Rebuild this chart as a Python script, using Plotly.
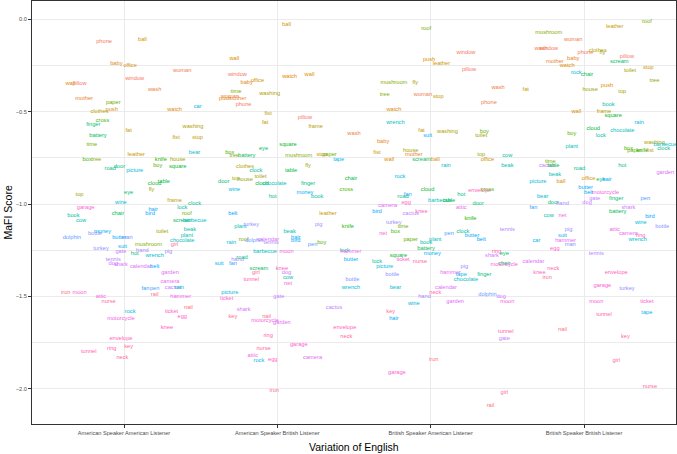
import math
import plotly.graph_objects as go

conditions = ["American Speaker American Listener", "American Speaker British Listener",
              "British Speaker American Listener", "British Speaker British Listener"]

# factor level order of the word colour scale (ggplot hue palette)
word_levels = ["pillow", "window", "phone", "woman",
               "wash", "mother", "baby", "watch", "push", "wall",
               "ball", "office", "stop",
               "leather", "fat", "fist", "frame", "clothes", "washing", "toilet", "fly", "house", "top", "tree", "mushroom", "roof",
               "time", "paper", "boy",
               "cross", "box", "knife", "square", "cloud", "table", "chair", "battery", "scream",
               "eye", "door", "finger", "hot",
               "road", "clock", "lock", "book", "cow", "beak", "plant", "chocolate", "barbecue", "wrench", "bear", "rain",
               "wine", "picture", "rock", "car", "tape", "suit",
               "money", "butter", "hair", "bird", "belt", "fan", "pen",
               "dolphin", "man",
               "bottle", "turkey", "pig", "hand", "tennis", "cactus",
               "gate", "dog", "shark", "calendar", "garden", "camera", "hammer", "attic", "motorcycle",
               "net", "moon", "garage", "ticket", "egg", "knee", "envelope", "ring", "tunnel", "neck", "nurse",
               "girl", "key", "iron", "nail", "rail"]

# ---- American Speaker American Listener
words_aa = ["phone", "ball", "baby", "office", "woman", "window", "wall", "pillow", "wash", "mother",
            "paper", "clothes", "push", "watch", "car", "cross", "finger", "fat", "washing", "battery",
            "fist", "stop", "time", "leather", "bear", "box", "tree", "knife", "house", "road",
            "door", "picture", "boy", "square", "cloud", "table", "fly", "eye", "top", "frame",
            "wine", "clock", "garage", "lock", "hair", "book", "chair", "bird", "roof", "cow",
            "scream", "barbecue", "toilet", "beak", "plant", "dolphin", "bottle", "money", "butter", "man",
            "chocolate", "girl", "mushroom", "turkey", "suit", "gate", "hand", "pig", "hot", "wrench",
            "tennis", "dog", "shark", "calendar", "belt", "garden", "camera", "cactus", "rain", "fan",
            "pen", "iron", "moon", "attic", "rail", "hammer", "nurse", "rock", "ticket", "nail",
            "egg", "motorcycle", "knee", "envelope", "key", "ring", "tunnel", "neck"]
score_aa = [-0.12, -0.11, -0.24, -0.25, -0.28, -0.32, -0.35, -0.35, -0.38, -0.43,
            -0.45, -0.50, -0.49, -0.49, -0.47, -0.55, -0.57, -0.60, -0.58, -0.63,
            -0.64, -0.64, -0.68, -0.73, -0.72, -0.76, -0.76, -0.76, -0.76, -0.81,
            -0.80, -0.82, -0.79, -0.80, -0.89, -0.88, -0.92, -0.94, -0.95, -0.98,
            -0.99, -1.00, -1.02, -1.02, -1.03, -1.06, -1.05, -1.05, -1.05, -1.09,
            -1.09, -1.09, -1.15, -1.14, -1.17, -1.18, -1.16, -1.15, -1.18, -1.18,
            -1.20, -1.22, -1.22, -1.24, -1.23, -1.26, -1.25, -1.26, -1.27, -1.28,
            -1.30, -1.32, -1.33, -1.34, -1.34, -1.37, -1.42, -1.45, -1.45, -1.46,
            -1.46, -1.48, -1.48, -1.50, -1.49, -1.50, -1.53, -1.58, -1.58, -1.56,
            -1.61, -1.62, -1.67, -1.73, -1.77, -1.78, -1.80, -1.83]
jitter_aa = [-0.13, 0.12, -0.05, 0.04, 0.38, 0.07, -0.35, -0.29, 0.20, -0.26,
             -0.07, -0.16, -0.08, 0.33, 0.48, -0.14, -0.20, 0.03, 0.45, -0.17,
             0.34, 0.48, -0.21, 0.08, 0.46, -0.24, -0.18, 0.24, 0.35, -0.09,
             -0.03, 0.07, 0.22, 0.35, 0.20, 0.26, 0.18, 0.03, -0.29, 0.33,
             -0.02, 0.46, -0.25, 0.38, 0.19, -0.33, -0.04, 0.17, 0.41, -0.28,
             0.38, 0.46, 0.25, 0.43, 0.41, -0.34, -0.19, -0.14, -0.03, 0.02,
             0.38, 0.33, 0.16, -0.15, -0.01, -0.02, 0.12, 0.29, 0.07, 0.20,
             -0.07, -0.07, -0.02, 0.11, 0.20, 0.30, 0.30, 0.32, 0.36, 0.14,
             0.20, -0.38, -0.29, -0.15, 0.20, 0.37, -0.10, 0.04, 0.31, 0.42,
             0.38, -0.02, 0.28, -0.02, 0.03, -0.08, -0.23, -0.01]

# ---- American Speaker British Listener
words_ab = ["ball", "wall", "window", "baby", "office", "watch", "wall", "time", "washing", "woman",
            "push", "mother", "phone", "fist", "pillow", "fat", "frame", "wash", "square", "eye",
            "box", "tree", "battery", "mushroom", "stop", "paper", "fly", "tape", "clothes", "clock",
            "table", "toilet", "top", "house", "door", "cloud", "chocolate", "finger", "chair", "wine",
            "cross", "money", "book", "hot", "belt", "leather", "plant", "turkey", "pig", "knife",
            "beak", "hair", "bird", "rain", "roof", "dolphin", "calendar", "tennis", "pen", "boy",
            "barbecue", "moon", "lock", "hammer", "butter", "hand", "road", "suit", "fan", "scream",
            "girl", "knee", "dog", "tunnel", "cow", "net", "bottle", "wrench", "picture", "ticket",
            "gate", "cactus", "shark", "key", "nail", "motorcycle", "garden", "envelope", "ring", "neck",
            "nurse", "garage", "attic", "rock", "egg", "camera", "iron"]
score_ab = [-0.03, -0.21, -0.30, -0.34, -0.33, -0.31, -0.30, -0.39, -0.40, -0.42,
            -0.43, -0.43, -0.46, -0.51, -0.53, -0.56, -0.58, -0.62, -0.68, -0.70,
            -0.72, -0.74, -0.74, -0.74, -0.73, -0.73, -0.79, -0.76, -0.80, -0.82,
            -0.82, -0.85, -0.86, -0.87, -0.88, -0.89, -0.89, -0.89, -0.86, -0.92,
            -0.92, -0.94, -0.96, -0.96, -1.05, -1.05, -1.12, -1.11, -1.11, -1.12,
            -1.15, -1.18, -1.20, -1.21, -1.19, -1.20, -1.19, -1.21, -1.22, -1.21,
            -1.26, -1.26, -1.25, -1.26, -1.30, -1.30, -1.29, -1.32, -1.32, -1.35,
            -1.37, -1.35, -1.37, -1.41, -1.40, -1.43, -1.41, -1.45, -1.48, -1.51,
            -1.50, -1.56, -1.57, -1.61, -1.61, -1.63, -1.64, -1.67, -1.71, -1.72,
            -1.78, -1.76, -1.82, -1.85, -1.84, -1.83, -2.01]
jitter_ab = [0.06, -0.28, -0.26, -0.20, -0.13, 0.08, 0.21, -0.27, -0.05, -0.31,
             -0.34, -0.26, -0.22, -0.06, 0.18, -0.08, 0.25, 0.50, 0.07, -0.09,
             -0.31, -0.28, -0.20, 0.14, 0.29, 0.34, 0.20, 0.40, -0.21, -0.14,
             0.09, -0.11, -0.27, -0.21, -0.35, -0.10, -0.02, 0.20, 0.48, -0.28,
             0.45, 0.18, 0.26, -0.03, -0.29, 0.33, -0.24, -0.17, 0.27, 0.46,
             0.08, 0.12, 0.12, -0.30, -0.22, -0.15, -0.06, -0.04, 0.23, 0.29,
             -0.08, 0.06, 0.44, 0.48, 0.48, -0.26, -0.23, -0.38, -0.29, -0.12,
             -0.14, 0.03, 0.06, -0.17, 0.07, 0.07, 0.49, 0.48, -0.31, -0.33,
             0.01, 0.37, -0.22, -0.29, -0.07, -0.08, 0.03, 0.44, -0.06, 0.45,
             -0.09, 0.14, -0.16, -0.12, -0.03, 0.23, -0.02]

# ---- British Speaker American Listener
words_ba = ["roof", "window", "push", "leather", "pillow", "mushroom", "fly", "tree", "woman", "stop",
            "wash", "phone", "watch", "wrench", "fat", "suit", "washing", "boy", "toilet", "baby",
            "fist", "house", "mother", "wall", "scream", "ball", "top", "office", "cow", "beak",
            "rain", "rock", "cloud", "fan", "road", "hot", "envelope", "cross", "barbecue", "table",
            "egg", "camera", "door", "bird", "knee", "cactus", "attic", "knife", "turkey", "time",
            "tennis", "net", "box", "pen", "clock", "butter", "belt", "paper", "plant", "book",
            "battery", "ring", "eye", "money", "square", "ticket", "lock", "nurse", "shark", "chair",
            "motorcycle", "picture", "pig", "hammer", "tape", "finger", "bottle", "chocolate", "bear", "calendar",
            "hand", "neck", "dolphin", "dog", "moon", "garden", "wine", "key", "hair", "tunnel",
            "gate", "iron", "garage", "girl", "rail"]
score_ba = [-0.05, -0.18, -0.22, -0.24, -0.27, -0.34, -0.34, -0.41, -0.41, -0.42,
            -0.37, -0.45, -0.49, -0.56, -0.60, -0.63, -0.61, -0.61, -0.63, -0.66,
            -0.72, -0.71, -0.73, -0.76, -0.76, -0.76, -0.73, -0.76, -0.74, -0.79,
            -0.79, -0.85, -0.92, -0.95, -0.96, -0.95, -0.93, -0.92, -0.98, -0.98,
            -0.99, -1.01, -1.00, -1.04, -1.04, -1.05, -1.02, -1.08, -1.10, -1.12,
            -1.14, -1.16, -1.15, -1.16, -1.15, -1.17, -1.19, -1.19, -1.19, -1.21,
            -1.24, -1.26, -1.27, -1.27, -1.28, -1.30, -1.31, -1.31, -1.28, -1.32,
            -1.33, -1.34, -1.34, -1.37, -1.38, -1.38, -1.38, -1.41, -1.45, -1.45,
            -1.50, -1.48, -1.49, -1.50, -1.53, -1.53, -1.54, -1.58, -1.62, -1.69,
            -1.73, -1.84, -1.91, -2.02, -2.09]
jitter_ba = [-0.03, 0.23, -0.01, 0.07, 0.25, -0.24, -0.10, -0.30, -0.05, 0.05,
             0.44, 0.38, -0.24, -0.23, -0.06, -0.02, 0.11, 0.35, 0.33, -0.31,
             -0.35, -0.13, -0.11, -0.27, -0.06, 0.03, 0.33, 0.37, 0.50, 0.50,
             0.10, -0.20, -0.02, -0.15, -0.18, 0.20, 0.32, 0.37, 0.06, 0.12,
             -0.16, -0.28, 0.31, -0.35, -0.06, -0.13, 0.20, 0.26, -0.24, -0.18,
             0.50, -0.31, -0.23, 0.12, 0.21, 0.27, 0.33, -0.13, 0.03, -0.03,
             -0.03, 0.43, 0.48, 0.01, -0.21, -0.18, -0.35, -0.07, 0.40, 0.48,
             0.48, -0.30, 0.22, 0.13, 0.20, 0.35, -0.25, 0.23, -0.23, 0.10,
             -0.04, 0.03, 0.37, 0.46, 0.50, 0.16, -0.11, -0.26, -0.24, 0.49,
             0.48, 0.02, -0.22, 0.48, 0.39]

# ---- British Speaker British Listener
words_bb = ["roof", "leather", "mushroom", "woman", "wash", "window", "phone", "clothes", "fly", "baby",
            "pillow", "mother", "watch", "scream", "toilet", "stop", "rock", "chair", "tree", "fat",
            "push", "house", "top", "book", "wall", "frame", "square", "rain", "cloud", "chocolate",
            "boy", "lock", "plant", "washing", "barbecue", "box", "paper", "knife", "fist", "clock",
            "time", "cactus", "table", "road", "hot", "garden", "beak", "picture", "ball", "office",
            "eye", "hair", "butter", "belt", "motorcycle", "gate", "dog", "finger", "pen", "bear",
            "door", "hand", "fan", "shark", "battery", "bird", "cow", "net", "wine", "bottle",
            "pig", "attic", "suit", "car", "hammer", "man", "camera", "ring", "wrench", "egg",
            "tennis", "calendar", "neck", "knee", "envelope", "iron", "garage", "turkey", "moon", "ticket",
            "tunnel", "tape", "nail", "key", "girl", "nurse"]
score_bb = [-0.01, -0.04, -0.07, -0.11, -0.16, -0.16, -0.18, -0.17, -0.18, -0.21,
            -0.20, -0.23, -0.25, -0.23, -0.28, -0.26, -0.29, -0.30, -0.33, -0.38,
            -0.36, -0.38, -0.39, -0.46, -0.50, -0.50, -0.52, -0.56, -0.59, -0.60,
            -0.62, -0.63, -0.69, -0.67, -0.68, -0.70, -0.71, -0.71, -0.71, -0.70,
            -0.77, -0.79, -0.79, -0.81, -0.79, -0.83, -0.84, -0.88, -0.88, -0.86,
            -0.87, -0.87, -0.91, -0.94, -0.94, -0.97, -0.99, -0.97, -0.97, -0.96,
            -0.99, -1.00, -1.02, -1.02, -1.04, -1.07, -1.06, -1.06, -1.10, -1.12,
            -1.14, -1.14, -1.17, -1.20, -1.20, -1.22, -1.16, -1.17, -1.19, -1.24,
            -1.27, -1.31, -1.35, -1.37, -1.37, -1.40, -1.44, -1.46, -1.53, -1.53,
            -1.60, -1.59, -1.68, -1.72, -1.85, -1.99]
jitter_bb = [0.41, 0.20, -0.23, -0.07, -0.28, -0.23, 0.01, 0.09, 0.12, -0.07,
             0.28, -0.19, -0.11, 0.23, 0.30, 0.42, -0.05, 0.02, 0.46, -0.38,
             0.15, 0.04, 0.25, 0.16, -0.05, 0.13, 0.19, 0.36, 0.06, 0.25,
             -0.08, 0.11, -0.08, 0.46, 0.53, 0.29, 0.33, 0.38, 0.43, 0.52,
             -0.22, -0.24, -0.20, -0.03, 0.25, 0.53, -0.19, -0.30, -0.15, 0.03,
             0.11, 0.15, 0.01, 0.03, 0.14, 0.07, 0.02, 0.21, 0.40, -0.27,
             -0.20, -0.14, -0.33, 0.29, 0.22, 0.43, -0.23, -0.14, 0.37, 0.51,
             -0.10, 0.20, -0.14, -0.31, -0.12, -0.09, 0.29, 0.37, 0.35, -0.19,
             0.08, -0.33, -0.20, -0.29, 0.21, -0.24, 0.12, 0.28, 0.08, 0.41,
             0.13, 0.41, -0.14, 0.27, 0.21, 0.43]

y_breaks = [0.0, -0.5, -1.0, -1.5, -2.0]
y_labels = ["0.0", "\u22120.5", "\u22121.0", "\u22121.5", "\u22122.0"]


def hcl_hex(h, c=100.0, l=65.0):
    hr = math.radians(h)
    U, V = c * math.cos(hr), c * math.sin(hr)
    Xn, Yn, Zn = 95.047, 100.0, 108.883
    den = Xn + 15 * Yn + 3 * Zn
    un, vn = 4 * Xn / den, 9 * Yn / den
    Y = Yn * ((l + 16) / 116) ** 3 if l > 8 else Yn * l / 903.3
    u = U / (13 * l) + un
    v = V / (13 * l) + vn
    X = 9 * Y * u / (4 * v)
    Z = -X / 3 - 5 * Y + 3 * Y / v
    X, Y, Z = X / 100, Y / 100, Z / 100
    rgb = [3.240479 * X - 1.537150 * Y - 0.498535 * Z,
           -0.969256 * X + 1.875992 * Y + 0.041556 * Z,
           0.055648 * X - 0.204043 * Y + 1.057311 * Z]
    out = []
    for ch in rgb:
        ch = 12.92 * ch if ch <= 0.0031308 else 1.055 * ch ** (1 / 2.4) - 0.055
        out.append(int(round(min(max(ch, 0), 1) * 255)))
    return "#%02X%02X%02X" % tuple(out)


n = len(word_levels)
colour = {w: hcl_hex(15 + 360.0 * i / n) for i, w in enumerate(word_levels)}

fig = go.Figure()
panels = [(words_aa, score_aa, jitter_aa), (words_ab, score_ab, jitter_ab),
          (words_ba, score_ba, jitter_ba), (words_bb, score_bb, jitter_bb)]
for k, (w, s, j) in enumerate(panels):
    fig.add_trace(go.Scatter(
        x=[k + jj for jj in j], y=s, mode="text", text=w,
        textposition="middle center",
        textfont=dict(size=5.7, color=[colour[t] for t in w],
                      family="Liberation Sans, Arial, sans-serif"),
        hoverinfo="text", showlegend=False))

grid = "#EBEBEB"
fig.update_layout(
    width=677, height=454,
    margin=dict(l=32, r=1, t=1, b=30),
    paper_bgcolor="white", plot_bgcolor="white",
    font=dict(family="Liberation Sans, Arial, sans-serif", color="black"),
    xaxis=dict(range=[-0.6, 3.6], tickvals=[0, 1, 2, 3], ticktext=conditions,
               showgrid=True, gridcolor=grid, gridwidth=1, zeroline=False,
               showline=True, mirror=True, linecolor="#333333", linewidth=1,
               ticks="outside", ticklen=3, tickwidth=0.8, tickcolor="#333333",
               tickfont=dict(size=5.6, color="#4D4D4D")),
    yaxis=dict(range=[-2.191, 0.099], tickvals=y_breaks, ticktext=y_labels,
               showgrid=True, gridcolor=grid, gridwidth=1, zeroline=False,
               showline=True, mirror=True, linecolor="#333333", linewidth=1,
               ticks="outside", ticklen=3, tickwidth=0.8, tickcolor="#333333",
               tickfont=dict(size=5.6, color="#4D4D4D"),
               minor=dict(tickvals=[-0.25, -0.75, -1.25, -1.75], showgrid=True,
                          gridcolor=grid, gridwidth=0.6, ticks="")),
    annotations=[
        dict(text="Variation of English", xref="paper", yref="paper",
             x=0.5, y=-23 / 423, xanchor="center", yanchor="middle",
             showarrow=False, font=dict(size=10.5, color="black")),
        dict(text="MaFI Score", xref="paper", yref="paper",
             x=-25 / 644, y=0.5, xanchor="center", yanchor="middle", textangle=-90,
             showarrow=False, font=dict(size=10.5, color="black")),
    ],
)
fig.write_html("out.html", config={"displayModeBar": False},
               post_script="document.body.style.margin='0';")
